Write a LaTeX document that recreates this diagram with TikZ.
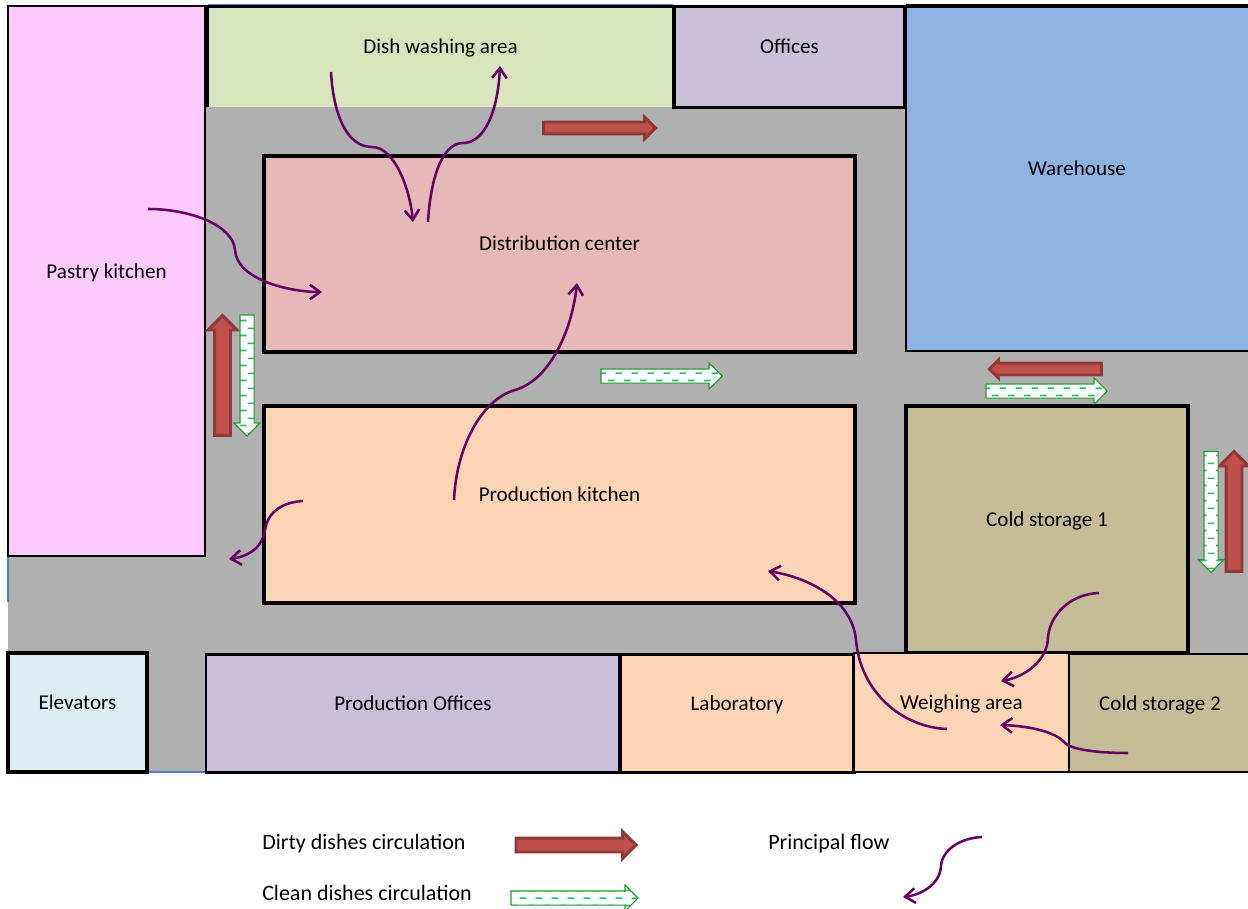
\documentclass[tikz,border=0pt]{standalone}
\usepackage{xcolor}
\usepackage{fontspec}
\usepackage{tikz}
\setmainfont{Carlito}
\usetikzlibrary{shapes.arrows, arrows.meta, patterns}
\definecolor{floorgray}{HTML}{B0B0B0}
\definecolor{edgeblue}{HTML}{4F81BD}
\definecolor{pastrypink}{HTML}{FFCBFF}
\definecolor{dishgreen}{HTML}{D8E4BC}
\definecolor{officelilac}{HTML}{CBC0DA}
\definecolor{storeblue}{HTML}{8DB3E2}
\definecolor{distrose}{HTML}{E6B8B7}
\definecolor{prodpeach}{HTML}{FCD5B4}
\definecolor{coldtan}{HTML}{C4BD97}
\definecolor{liftblue}{HTML}{DAEEF3}
\definecolor{dirtyfill}{HTML}{C0504D}
\definecolor{dirtyline}{HTML}{8F3A38}
\definecolor{cleanline}{HTML}{239B2E}
\definecolor{cleandash}{HTML}{22C06A}
\definecolor{flowpurple}{HTML}{660066}
\def\px{0.75pt}
\pgfdeclarepatternformonly{cleanticks}{\pgfqpoint{0pt}{0pt}}{\pgfqpoint{12pt}{11.25pt}}{\pgfqpoint{12pt}{11.25pt}}{
    \pgfsetlinewidth{1.3pt}
    \pgfpathmoveto{\pgfqpoint{0pt}{2.8pt}}
    \pgfpathlineto{\pgfqpoint{5.25pt}{2.8pt}}
    \pgfpathmoveto{\pgfqpoint{6pt}{8.4pt}}
    \pgfpathlineto{\pgfqpoint{11.25pt}{8.4pt}}
    \pgfusepath{stroke}
}
\begin{document}
\begin{tikzpicture}[
    x=0.75pt, y=-0.75pt,
    room/.style={rectangle, draw=black, line width=2.4pt, fill=#1, inner sep=0pt, outer sep=0pt, align=center, font=\fontsize{15.8}{18}\selectfont, text height=11pt, text depth=15.5pt},
    arrowsize/.style 2 args={inner ysep=#1/2*\px, single arrow head extend=(#2-#1)/2*\px},
    dirty/.style={single arrow, draw=dirtyline, line width=2.2pt, fill=dirtyfill, anchor=tail, inner xsep=0pt, outer sep=0pt},
    clean/.style={single arrow, draw=cleanline, line width=0.8pt, preaction={fill=white}, pattern=cleanticks, pattern color=cleandash, anchor=tail, inner xsep=0pt, outer sep=0pt},
    flow/.style={-{Straight Barb[length=7.5pt, width=11pt, line width=1.9pt]}, line width=1.9pt, color=flowpurple},
    legend/.style={anchor=west, inner sep=0pt, font=\fontsize{16.5}{18}\selectfont}
]
    \useasboundingbox (0,0) rectangle (1248,909);
    % corridors
    \fill[floorgray] (8,6) rectangle (1248,772);
    \draw[edgeblue, line width=0.8pt] (8,556) -- (8,602);
    \draw[edgeblue, line width=0.8pt] (147,772) -- (206,772);
    \draw[edgeblue, line width=0.8pt] (208,4.5) -- (673,4.5);

    % rooms
    \node[room=pastrypink, line width=1.9pt, minimum width=197*\px, minimum height=550*\px] (pastry) at (106.5,281) {Pastry kitchen};
    \node[room=dishgreen, draw=none, minimum width=466*\px, minimum height=101*\px] (dish) at (440.5,57) {Dish washing area};
    \node[room=officelilac, minimum width=231*\px, minimum height=101*\px] (offices) at (789.5,57) {Offices};
    \node[room=storeblue, draw=none, minimum width=342*\px, minimum height=345*\px] (warehouse) at (1077,178.5) {Warehouse};
    \node[room=distrose, minimum width=591*\px, minimum height=196*\px] (distribution) at (559.5,254) {Distribution center};
    \node[room=prodpeach, minimum width=591*\px, minimum height=197*\px] (production) at (559.5,504.5) {Production kitchen};
    \node[room=coldtan, minimum width=282*\px, minimum height=247*\px] (coldone) at (1047,529.5) {Cold storage 1};
    \node[room=liftblue, line width=2.3pt, minimum width=139*\px, minimum height=119*\px] (elevators) at (77.5,712.5) {Elevators};
    \node[room=officelilac, line width=1.9pt, minimum width=414*\px, minimum height=118*\px] (prodoffices) at (413,713.5) {Production Offices};
    \node[room=prodpeach, minimum width=234*\px, minimum height=118*\px] (laboratory) at (737,713.5) {Laboratory};
    \node[room=prodpeach, line width=2.2pt, minimum width=215*\px, minimum height=119*\px] (weighing) at (961.5,712.5) {Weighing area};
    \node[room=coldtan, line width=2.2pt, minimum width=182*\px, minimum height=118*\px] (coldtwo) at (1160,713) {Cold storage 2};

    % walls that only run along part of a room
    \draw[line width=2.4pt] (dish.south west) -- (dish.north west) -- (dish.north east);
    \draw[line width=2.4pt] (warehouse.north west) -- (warehouse.north east);
    \draw[line width=0.9pt] (warehouse.north west) -- (warehouse.south west) -- (warehouse.south east);
    \coordinate (wallend) at (1198,351);
    \draw[line width=1.6pt] (wallend) -- (warehouse.south east);

    % dirty dishes
    \node[dirty, arrowsize={9}{19}, minimum height=112*\px] (dirtytop) at (543.5,128) {};
    \node[dirty, rotate=90, arrowsize={13}{26}, minimum height=120*\px] (dirtyleft) at (222.5,435.5) {};
    \node[dirty, rotate=180, arrowsize={9}{15}, minimum height=112*\px] (dirtymid) at (1101.5,369) {};
    \node[dirty, rotate=90, arrowsize={13}{26}, minimum height=120*\px] (dirtyright) at (1234,571.5) {};

    % clean dishes
    \node[clean, arrowsize={13}{25}, minimum height=121*\px] (cleanmid) at (601,376) {};
    \node[clean, rotate=-90, arrowsize={13}{25}, minimum height=121*\px] (cleanleft) at (247,315) {};
    \node[clean, arrowsize={13}{25}, minimum height=121*\px] (cleanstore) at (986,391) {};
    \node[clean, rotate=-90, arrowsize={13}{25}, minimum height=121*\px] (cleanright) at (1211,451.5) {};

    % principal flow
    \coordinate (dishout) at (331,72);
    \coordinate (dishbend) at (372,147);
    \coordinate (distin) at (413,222);
    \coordinate (distout) at (428,222);
    \coordinate (distbend) at (463,143);
    \coordinate (dishin) at (500,66);
    \coordinate (pastryout) at (148,209);
    \coordinate (pastrybend) at (235,250);
    \coordinate (pastryin) at (322,292);
    \coordinate (prodout) at (454,500);
    \coordinate (prodbend) at (515,390);
    \coordinate (prodin) at (577,283);
    \coordinate (sideout) at (303,501);
    \coordinate (sidebend) at (265,530);
    \coordinate (sidein) at (229,559);
    \coordinate (weighout) at (947,729);
    \coordinate (weighbend) at (856,640);
    \coordinate (weighin) at (768,571);
    \coordinate (coldoneout) at (1099,593);
    \coordinate (coldonebend) at (1048,637);
    \coordinate (coldonein) at (1001,681);
    \coordinate (coldtwoout) at (1128,753);
    \coordinate (coldtwobend) at (1064,742);
    \coordinate (coldtwoin) at (1000,725);
    \draw[flow] (dishout) .. controls (333,110) and (345,147) .. (dishbend) .. controls (395,147) and (410,190) .. (distin);
    \draw[flow] (distout) .. controls (430,185) and (440,143) .. (distbend) .. controls (485,143) and (498,110) .. (dishin);
    \draw[flow] (pastryout) .. controls (190,209) and (233,225) .. (pastrybend) .. controls (237,280) and (290,292) .. (pastryin);
    \draw[flow] (prodout) .. controls (456,450) and (480,400) .. (prodbend) .. controls (550,380) and (572,330) .. (prodin);
    \draw[flow] (sideout) .. controls (285,502) and (268,510) .. (sidebend) .. controls (262,550) and (245,557) .. (sidein);
    \draw[flow] (weighout) .. controls (900,727) and (860,690) .. (weighbend) .. controls (852,600) and (810,578) .. (weighin);
    \draw[flow] (coldoneout) .. controls (1070,594) and (1050,615) .. (coldonebend) .. controls (1048,660) and (1025,677) .. (coldonein);
    \draw[flow] (coldtwoout) .. controls (1100,753) and (1070,750) .. (coldtwobend) .. controls (1055,732) and (1030,726) .. (coldtwoin);

    % legend
    \node[legend] (dirtytext) at (262,844) {Dirty dishes circulation};
    \node[legend] (cleantext) at (262,893) {Clean dishes circulation};
    \node[legend] (flowtext) at (768,844) {Principal flow};
    \node[dirty, arrowsize={11}{24}, minimum height=120*\px] (dirtykey) at (516,845) {};
    \node[clean, arrowsize={13}{25}, minimum height=127*\px] (cleankey) at (511,898) {};
    \coordinate (keyout) at (982,837);
    \coordinate (keybend) at (941,866);
    \coordinate (keyin) at (903,897);
    \draw[flow] (keyout) .. controls (960,838) and (942,850) .. (keybend) .. controls (940,885) and (920,895) .. (keyin);
\end{tikzpicture}
\end{document}
